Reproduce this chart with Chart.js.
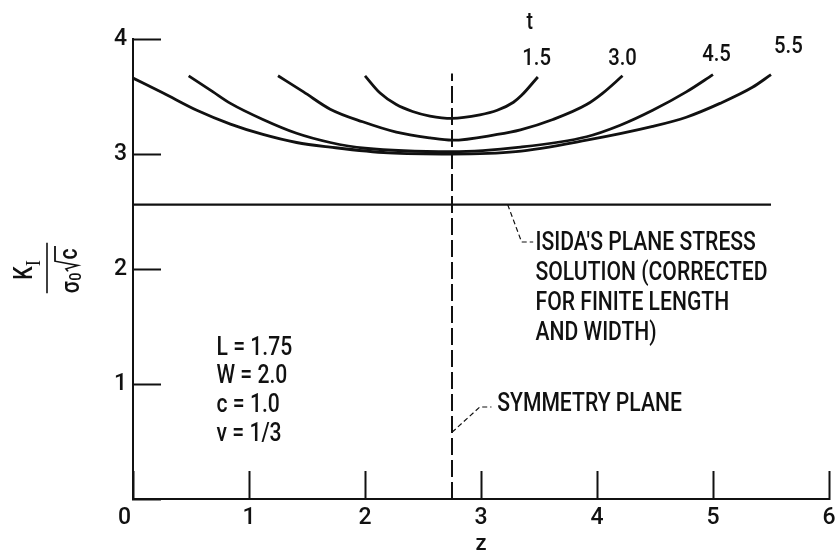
<!DOCTYPE html>
<html>
<head>
<meta charset="utf-8">
<script src="https://cdn.jsdelivr.net/npm/chart.js@4/dist/chart.umd.min.js"></script>
<style>
  html, body { margin: 0; padding: 0; background: #ffffff; }
  canvas { display: block; }
</style>
</head>
<body>
<canvas id="chart" width="836" height="558"></canvas>
<script>
// Stress-intensity factor K_I / (sigma0 sqrt(c)) along the crack front z,
// for several thicknesses t.
const zT15 = [2.00, 2.13, 2.27, 2.41, 2.56, 2.75, 2.99, 3.14, 3.28, 3.35, 3.49];
const kT15 = [3.68, 3.53, 3.43, 3.37, 3.33, 3.31, 3.34, 3.38, 3.45, 3.51, 3.67];

const zT30 = [1.25, 1.47, 1.70, 1.98, 2.27, 2.56, 2.75, 3.14, 3.34, 3.62, 3.91, 4.05, 4.22];
const kT30 = [3.68, 3.54, 3.39, 3.28, 3.19, 3.14, 3.12, 3.17, 3.21, 3.30, 3.43, 3.53, 3.68];

const zT45 = [0.48, 0.69, 0.84, 1.12, 1.41, 1.70, 2.00, 2.75, 3.34, 3.91, 4.20, 4.48, 4.77, 5.00];
const kT45 = [3.68, 3.54, 3.44, 3.30, 3.18, 3.10, 3.05, 3.02, 3.06, 3.15, 3.25, 3.38, 3.54, 3.69];

const zT55 = [0.00, 0.26, 0.55, 0.84, 1.12, 1.41, 1.70, 2.20, 2.75, 3.30, 3.91, 4.48, 4.77, 5.06, 5.34, 5.50];
const kT55 = [3.66, 3.53, 3.38, 3.26, 3.17, 3.10, 3.06, 3.01, 3.00, 3.02, 3.12, 3.24, 3.32, 3.44, 3.58, 3.69];

// Isida's plane stress solution (corrected for finite length and width)
const zIsida = [0.0, 5.5];
const kIsida = [2.56, 2.56];

// Symmetry plane of the specimen
const zSym = [2.75, 2.75];
const kSym = [0.0, 3.70];

// Curve labels (thickness t)
const tLabels = ['1.5', '3.0', '4.5', '5.5'];

// Axis tick labels
const xTickLabels = ['0', '1', '2', '3', '4', '5', '6'];
const yTickLabels = ['', '1', '2', '3', '4'];

// Specimen parameters
const paramLines = ['L = 1.75', 'W = 2.0', 'c = 1.0', 'ν = 1/3'];
const isidaLines = ["ISIDA'S PLANE STRESS", 'SOLUTION (CORRECTED', 'FOR FINITE LENGTH', 'AND WIDTH)'];
const symLabel = 'SYMMETRY PLANE';

const INK = '#111111';
const FONT = 'Roboto, "DejaVu Sans", sans-serif';

function pts(xs, ys) { return xs.map((x, i) => ({ x: x, y: ys[i] })); }

function curve(xs, ys) {
  return {
    data: pts(xs, ys),
    borderColor: INK, borderWidth: 2.8,
    pointRadius: 0, fill: false,
    cubicInterpolationMode: 'monotone'
  };
}

// Leader lines from the labels to the lines they describe
const leaderIsida = { z: [3.23, 3.35, 3.45], k: [2.56, 2.235, 2.235] };
const leaderSym = { z: [2.75, 2.99, 3.09], k: [0.58, 0.80, 0.80] };

const datasets = [
  curve(zT15, kT15),
  curve(zT30, kT30),
  curve(zT45, kT45),
  curve(zT55, kT55),
  { data: pts(zIsida, kIsida), borderColor: INK, borderWidth: 2.2, pointRadius: 0, tension: 0 },
  { data: pts(zSym, kSym), borderColor: INK, borderWidth: 2, borderDash: [17, 5], pointRadius: 0, tension: 0 },
  { data: pts(leaderIsida.z, leaderIsida.k), borderColor: INK, borderWidth: 1.2, borderDash: [5, 3], pointRadius: 0, tension: 0 },
  { data: pts(leaderSym.z, leaderSym.k), borderColor: INK, borderWidth: 1.2, borderDash: [5, 3], pointRadius: 0, tension: 0 }
];

// Text drawn on the plot: labels, annotations and the y-axis fraction
const annotations = {
  id: 'annotations',
  afterDraw(chart) {
    const ctx = chart.ctx;
    const xs = chart.scales.x, ys = chart.scales.y;
    const X = v => xs.getPixelForValue(v);
    const Y = v => ys.getPixelForValue(v);

    ctx.save();
    ctx.fillStyle = INK;
    ctx.strokeStyle = INK;
    ctx.textBaseline = 'middle';

    // Narrow lettering: squeeze the font horizontally
    ctx.font = '500 25px ' + FONT;
    const sx = 232 / ctx.measureText('SOLUTION (CORRECTED').width;

    function text(str, x, y, size, align) {
      ctx.save();
      ctx.font = '500 ' + size + 'px ' + FONT;
      ctx.translate(x, y);
      ctx.scale(sx, 1);
      ctx.textAlign = align || 'left';
      ctx.fillText(str, 0, 0);
      ctx.restore();
    }

    // t and curve labels
    text('t', X(3.42), Y(4.14), 23, 'center');
    const labelPos = [[3.48, 3.83], [4.22, 3.83], [5.03, 3.86], [5.65, 3.93]];
    tLabels.forEach((s, i) => text(s, X(labelPos[i][0]), Y(labelPos[i][1]), 24, 'center'));

    // Isida annotation
    const isidaK = [2.22, 1.96, 1.70, 1.44];
    isidaLines.forEach((s, i) => text(s, X(3.47), Y(isidaK[i]), 25, 'left'));

    // Symmetry plane annotation
    text(symLabel, X(3.14), Y(0.82), 25, 'left');

    // Parameters
    const paramK = [1.31, 1.06, 0.81, 0.56];
    paramLines.forEach((s, i) => text(s, X(0.72), Y(paramK[i]), 25, 'left'));

    // y-axis title: K_I over sigma_0 sqrt(c), rotated
    ctx.save();
    ctx.translate(47, 268);
    ctx.rotate(-Math.PI / 2);
    ctx.scale(sx, 1);
    ctx.lineWidth = 1.6;
    ctx.beginPath();
    ctx.moveTo(-30, 0);
    ctx.lineTo(30, 0);
    ctx.stroke();
    ctx.textBaseline = 'alphabetic';
    ctx.textAlign = 'left';
    ctx.font = '500 25px ' + FONT;
    ctx.fillText('K', -14, -15);
    ctx.font = '22px "Liberation Serif", "DejaVu Serif", serif';
    ctx.fillText('I', 2, -7);
    ctx.font = '500 25px ' + FONT;
    ctx.fillText('σ', -30, 32);
    ctx.font = '500 17px ' + FONT;
    ctx.fillText('0', -15, 34);
    // radical sign
    ctx.lineWidth = 1.8;
    ctx.beginPath();
    ctx.moveTo(-4, 21);
    ctx.lineTo(-1, 19);
    ctx.lineTo(3, 31);
    ctx.lineTo(8, 8);
    ctx.lineTo(26, 8);
    ctx.stroke();
    ctx.font = '500 25px ' + FONT;
    ctx.fillText('c', 10, 30);
    ctx.restore();

    ctx.restore();
  }
};

new Chart(document.getElementById('chart'), {
  type: 'line',
  data: { datasets: datasets },
  options: {
    responsive: false,
    animation: false,
    events: [],
    layout: { padding: { top: 39, right: 7, left: 0, bottom: 0 } },
    plugins: { legend: { display: false }, tooltip: { enabled: false } },
    scales: {
      x: {
        type: 'linear', min: 0, max: 6,
        afterFit: s => { s.height = 59; s.paddingLeft = 0; s.paddingRight = 0; },
        border: { display: true, color: INK, width: 2 },
        grid: { drawOnChartArea: false, drawTicks: true, tickLength: -28, tickWidth: 2, tickColor: INK },
        ticks: {
          stepSize: 1, padding: 33, color: INK, maxRotation: 0,
          font: { family: FONT, size: 23, weight: '500' },
          callback: v => (v === 0 ? xTickLabels[0] + '   ' : xTickLabels[v])
        },
        title: { display: true, text: 'z', color: INK, font: { family: FONT, size: 22, weight: '500' }, padding: { top: 0, bottom: 0 } }
      },
      y: {
        type: 'linear', min: 0, max: 4,
        afterFit: s => { s.width = 133; s.paddingTop = 0; s.paddingBottom = 0; },
        border: { display: true, color: INK, width: 2 },
        grid: { drawOnChartArea: false, drawTicks: true, tickLength: -28, tickWidth: 2, tickColor: INK },
        ticks: {
          stepSize: 1, padding: 34, color: INK,
          font: { family: FONT, size: 23, weight: '500' },
          callback: v => yTickLabels[v]
        }
      }
    }
  },
  plugins: [annotations]
});
</script>
</body>
</html>
